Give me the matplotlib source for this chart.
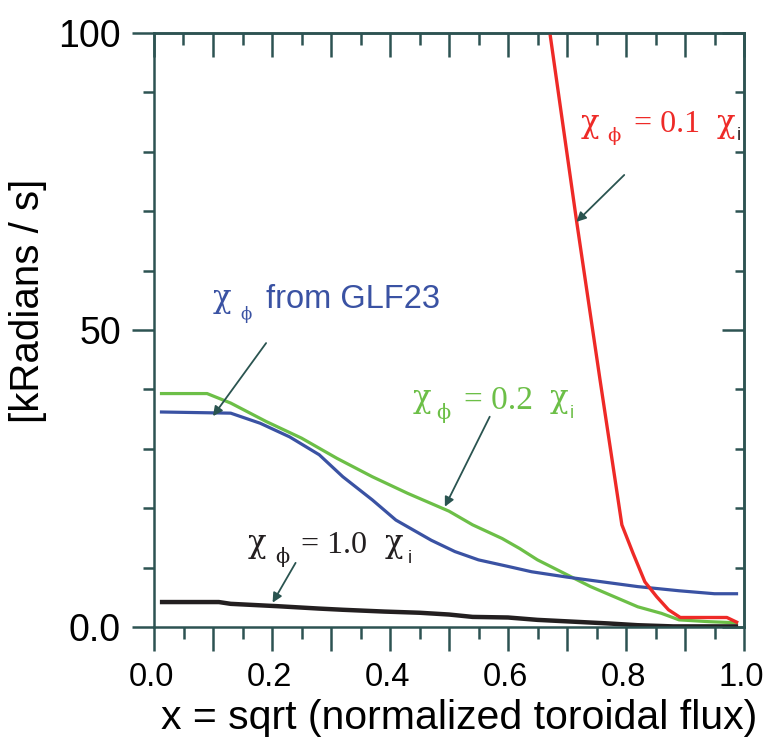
import matplotlib
matplotlib.use("Agg")
import matplotlib.pyplot as plt
import matplotlib.transforms as mtransforms
from matplotlib.ticker import FixedLocator, FixedFormatter

# chi_phi = 1.0 chi_i (black)
x_one = [0.01, 0.11, 0.13, 0.21, 0.28, 0.32, 0.39, 0.45, 0.50, 0.54, 0.60, 0.65, 0.71, 0.77, 0.82, 0.88, 0.99]
y_one = [4.2, 4.2, 3.9, 3.5, 3.1, 2.9, 2.6, 2.4, 2.1, 1.7, 1.6, 1.2, 0.9, 0.6, 0.3, 0.1, 0.1]

# chi_phi = 0.2 chi_i (green)
x_two = [0.01, 0.09, 0.13, 0.19, 0.25, 0.31, 0.37, 0.43, 0.50, 0.54, 0.59, 0.62, 0.65, 0.70, 0.74,
         0.78, 0.82, 0.86, 0.89, 0.94, 0.99]
y_two = [39.3, 39.3, 37.7, 34.6, 31.8, 28.4, 25.3, 22.5, 19.5, 17.2, 14.9, 13.2, 11.3, 8.8, 6.8,
         5.1, 3.4, 2.3, 1.2, 0.9, 0.7]

# chi_phi from GLF23 (blue)
x_glf = [0.01, 0.13, 0.18, 0.23, 0.28, 0.32, 0.37, 0.41, 0.47, 0.51, 0.55, 0.60, 0.64, 0.70, 0.76,
         0.82, 0.89, 0.95, 0.99]
y_glf = [36.2, 36.0, 34.3, 32.0, 29.0, 25.3, 21.4, 18.0, 14.6, 12.7, 11.3, 10.2, 9.3, 8.4, 7.6,
         6.8, 6.1, 5.6, 5.6]

# chi_phi = 0.1 chi_i (red)
x_tenth = [0.671, 0.716, 0.756, 0.773, 0.793, 0.812, 0.832, 0.852, 0.872, 0.892, 0.971, 0.99]
y_tenth = [100, 68.5, 41.6, 30.4, 17.2, 12.4, 7.6, 5.1, 2.9, 1.6, 1.6, 0.7]

x_ticks = [0.0, 0.1, 0.2, 0.3, 0.4, 0.5, 0.6, 0.7, 0.8, 0.9, 1.0]
x_ticklabels = ["0.0", "", "0.2", "", "0.4", "", "0.6", "", "0.8", "", "1.0"]
y_ticks = [0, 50, 100]
y_ticklabels = ["0.0", "50", "100"]

W, H = 765, 741
axcol = "#2d5352"
arrcol = "#2a5450"
red, green, blue, black = "#ee2a27", "#6cbf47", "#3a52a3", "#231f20"

fig = plt.figure(figsize=(W / 100, H / 100), dpi=100)
ax = fig.add_axes([154 / W, 1 - 627 / H, 590 / W, 594 / H])

lw = dict(solid_capstyle="butt", solid_joinstyle="round")
ax.plot(x_two, y_two, color=green, lw=2.3, **lw)
ax.plot(x_glf, y_glf, color=blue, lw=2.3, **lw)
ax.plot(x_one, y_one, color=black, lw=3.2, **lw)
ax.plot(x_tenth, y_tenth, color=red, lw=2.4, **lw)

ax.set_xlim(0, 1)
ax.set_ylim(0, 100)

for s in ax.spines.values():
    s.set_color(axcol)
    s.set_linewidth(1.8)

ax.xaxis.set_major_locator(FixedLocator(x_ticks))
ax.xaxis.set_major_formatter(FixedFormatter(x_ticklabels))
ax.xaxis.set_minor_locator(FixedLocator([0.05 + 0.1 * i for i in range(10)]))
ax.yaxis.set_major_locator(FixedLocator(y_ticks))
ax.yaxis.set_major_formatter(FixedFormatter(y_ticklabels))
ax.yaxis.set_minor_locator(FixedLocator([10, 20, 30, 40, 60, 70, 80, 90]))

ax.tick_params(axis="x", which="major", direction="out", length=17.3, width=1.8, color=axcol,
               labelsize=23.5, pad=8, labelfontfamily="Liberation Sans")
ax.tick_params(axis="x", which="minor", direction="out", length=8.6, width=1.8, color=axcol)
ax.tick_params(axis="y", which="major", direction="out", length=15.8, width=1.8, color=axcol,
               labelsize=27, pad=8, labelfontfamily="Liberation Sans")
ax.tick_params(axis="y", which="minor", direction="out", length=7.6, width=1.8, color=axcol)

# nudge the x tick labels a little to the left, as in the original
shift = mtransforms.ScaledTranslation(-3 / 100, 0, fig.dpi_scale_trans)
for lab in ax.get_xticklabels():
    lab.set_transform(lab.get_transform() + shift)

top = ax.secondary_xaxis("top")
top.xaxis.set_major_locator(FixedLocator(x_ticks))
top.xaxis.set_minor_locator(FixedLocator([0.05 + 0.1 * i for i in range(10)]))
top.tick_params(which="major", direction="in", length=17.3, width=1.8, color=axcol, labeltop=False)
top.tick_params(which="minor", direction="in", length=8.6, width=1.8, color=axcol)
top.spines["top"].set_color(axcol)
top.spines["top"].set_linewidth(1.8)

right = ax.secondary_yaxis("right")
right.yaxis.set_major_locator(FixedLocator(y_ticks))
right.yaxis.set_minor_locator(FixedLocator([10, 20, 30, 40, 60, 70, 80, 90]))
right.tick_params(which="major", direction="in", length=15.8, width=1.8, color=axcol, labelright=False)
right.tick_params(which="minor", direction="in", length=6.5, width=1.8, color=axcol)
right.spines["right"].set_color(axcol)
right.spines["right"].set_linewidth(1.8)


def put(px, py, s, size, color, family="Liberation Serif"):
    fig.text(px / W, 1 - py / H, s, fontsize=size, color=color, family=family,
             ha="left", va="baseline")


def arrow(x0, y0, x1, y1):
    ax.annotate("", xy=(x1, y1), xytext=(x0, y0),
                arrowprops=dict(arrowstyle="-|>", color=arrcol, lw=1.3,
                                mutation_scale=14, shrinkA=0, shrinkB=0))


CHI, PHI, GR = "\u03c7", "\u03d5", "DejaVu Serif"

# axis titles
fig.text(459 / W, 1 - 718 / H, "x = sqrt (normalized toroidal flux)", fontsize=29.5,
         family="Liberation Sans", ha="center", va="center")
fig.text(28 / W, 1 - 301 / H, "[kRadians / s]", fontsize=29, family="Liberation Sans",
         rotation=90, ha="center", va="center")

# GLF23 label
put(213, 307, CHI, 22, blue, GR)
put(240, 319, PHI, 12, blue, GR)
put(266, 308, "from GLF23", 23.5, blue, "Liberation Sans")
arrow(0.190, 47.8, 0.100, 35.5)

# 0.2 label
put(413, 407, CHI, 22, green, GR)
put(436, 419, PHI, 15, green, GR)
put(464, 409, "= 0.2", 24, green)
put(550, 407, CHI, 22, green, GR)
put(570, 418, "i", 13, green, "Liberation Sans")
arrow(0.569, 35.4, 0.493, 20.25)

# 1.0 label
put(248, 552, CHI, 22, black, GR)
put(275, 563, PHI, 15, black, GR)
put(301, 553, "= 1.0", 23, black)
put(385, 552, CHI, 22, black, GR)
put(408, 563, "i", 13, black, "Liberation Sans")
arrow(0.240, 10.8, 0.201, 4.1)

# 0.1 label
put(581, 132, CHI, 22, red, GR)
put(607, 141, PHI, 14, red, GR)
put(634, 132, "= 0.1", 23, red)
put(717, 132, CHI, 22, red, GR)
put(737, 140, "i", 13, black, "Liberation Sans")
arrow(0.797, 76.1, 0.716, 68.2)

fig.savefig("out.png", dpi=100)
